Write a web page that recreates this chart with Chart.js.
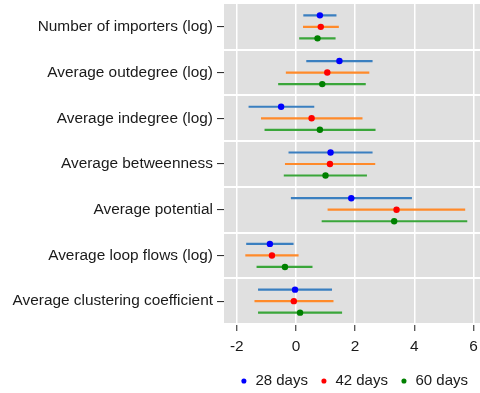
<!DOCTYPE html>
<html>
<head>
<meta charset="utf-8">
<script src="https://cdn.jsdelivr.net/npm/chart.js@4.4.0/dist/chart.umd.min.js"></script>
<style>
  html, body { margin: 0; padding: 0; background: #fff; }
  #wrap { width: 480px; height: 393px; position: relative; }
</style>
</head>
<body>
<div id="wrap"><canvas id="c" width="480" height="393"></canvas></div>
<script>
const categories = [
  "Number of importers (log)",
  "Average outdegree (log)",
  "Average indegree (log)",
  "Average betweenness",
  "Average potential",
  "Average loop flows (log)",
  "Average clustering coefficient"
];
const seriesNames = ["28 days", "42 days", "60 days"];
const est28 = [0.81, 1.47, -0.50, 1.17, 1.87, -0.88, -0.03];
const lo28  = [0.25, 0.35, -1.60, -0.25, -0.17, -1.68, -1.28];
const hi28  = [1.37, 2.59, 0.62, 2.59, 3.92, -0.08, 1.22];
const est42 = [0.84, 1.06, 0.53, 1.15, 3.40, -0.81, -0.07];
const lo42  = [0.24, -0.34, -1.18, -0.37, 1.07, -1.71, -1.40];
const hi42  = [1.45, 2.48, 2.25, 2.68, 5.72, 0.09, 1.27];
const est60 = [0.73, 0.89, 0.81, 1.00, 3.32, -0.37, 0.14];
const lo60  = [0.11, -0.60, -1.06, -0.41, 0.87, -1.33, -1.28];
const hi60  = [1.34, 2.36, 2.69, 2.40, 5.79, 0.56, 1.56];
const xTicks = [-2, 0, 2, 4, 6];

const estimates = [est28, est42, est60];
const lows = [lo28, lo42, lo60];
const highs = [hi28, hi42, hi60];
const pointColors = ['#0000ff', '#ff0000', '#008000'];
const barColors = ['#3a7fc0', '#ff8a2a', '#3aa63a'];
const SPREAD = 0.755;
const FONT = { family: "'Liberation Sans', Arial, sans-serif", size: 15.4 };
const LEGEND_FONT = { family: "'Liberation Sans', Arial, sans-serif", size: 15 };
const TEXT = '#1a1a1a';

const pointSets = seriesNames.map((name, k) => ({
  type: 'scatter',
  label: name,
  data: estimates[k].map((v, i) => ({ x: v, y: i + (k - 1) * SPREAD / 3 })),
  xAxisID: 'x',
  yAxisID: 'yp',
  backgroundColor: pointColors[k],
  borderColor: pointColors[k],
  borderWidth: 0,
  pointRadius: 3.2,
  pointHoverRadius: 3.2,
  pointStyle: 'circle',
  order: 0
}));
const barSets = seriesNames.map((name, k) => ({
  type: 'bar',
  label: name + ' CI',
  indexAxis: 'y',
  data: lows[k].map((lo, i) => [lo, highs[k][i]]),
  xAxisID: 'x',
  yAxisID: 'y',
  backgroundColor: barColors[k],
  borderWidth: 0,
  categoryPercentage: SPREAD,
  barPercentage: 0.19,
  order: 1
}));

const panelBg = {
  id: 'panelBg',
  beforeDraw(chart) {
    const a = chart.chartArea, ctx = chart.ctx;
    ctx.save();
    ctx.fillStyle = '#e0e0e0';
    ctx.fillRect(a.left, a.top, a.right - a.left, a.bottom - a.top);
    ctx.restore();
  }
};
const zeroPad = (s) => { s.paddingLeft = 0; s.paddingRight = 0; s.paddingTop = 0; s.paddingBottom = 0; };

new Chart(document.getElementById('c'), {
  data: { labels: categories, datasets: [...pointSets, ...barSets] },
  plugins: [panelBg],
  options: {
    responsive: false,
    animation: false,
    layout: { autoPadding: false, padding: { left: 0, right: 0, top: 4, bottom: -5.5 } },
    plugins: {
      tooltip: { enabled: false },
      legend: {
        position: 'bottom',
        fullSize: false,
        align: 'end',
        labels: {
          filter: (item) => item.datasetIndex < 3,
          usePointStyle: true,
          pointStyle: 'circle',
          boxWidth: 8,
          boxHeight: 3.6,
          padding: 12,
          color: TEXT,
          font: LEGEND_FONT
        }
      }
    },
    scales: {
      x: {
        type: 'linear',
        position: 'bottom',
        min: -2.43,
        max: 6.22,
        afterBuildTicks: (s) => { s.ticks = xTicks.map(v => ({ value: v })); },
        afterFit: (s) => { s.height = 37.5; zeroPad(s); },
        ticks: { includeBounds: false, color: TEXT, font: FONT, padding: 7 },
        grid: { color: '#ffffff', lineWidth: 1.5, tickLength: 7, tickColor: '#333333', tickWidth: 1.1 },
        border: { display: false }
      },
      y: {
        type: 'category',
        position: 'left',
        labels: categories,
        offset: true,
        afterFit: (s) => { s.width = 224; zeroPad(s); },
        ticks: { color: TEXT, font: FONT, padding: 4 },
        grid: { offset: false, drawOnChartArea: false, drawTicks: true, tickLength: 7, color: '#333333', lineWidth: 1.1 },
        border: { display: false }
      },
      yGrid: {
        type: 'category',
        axis: 'y',
        position: 'left',
        labels: categories,
        offset: true,
        afterFit: (s) => { s.width = 0; zeroPad(s); },
        ticks: { display: false },
        grid: {
          offset: true,
          drawTicks: false,
          lineWidth: 2,
          color: (ctx) => (ctx.index === 0 || ctx.index === categories.length) ? 'rgba(0,0,0,0)' : '#ffffff'
        },
        border: { display: false }
      },
      yp: {
        type: 'linear',
        axis: 'y',
        position: 'left',
        display: false,
        reverse: true,
        min: -0.5,
        max: categories.length - 0.5,
        afterFit: (s) => { zeroPad(s); }
      }
    }
  }
});
</script>
</body>
</html>
